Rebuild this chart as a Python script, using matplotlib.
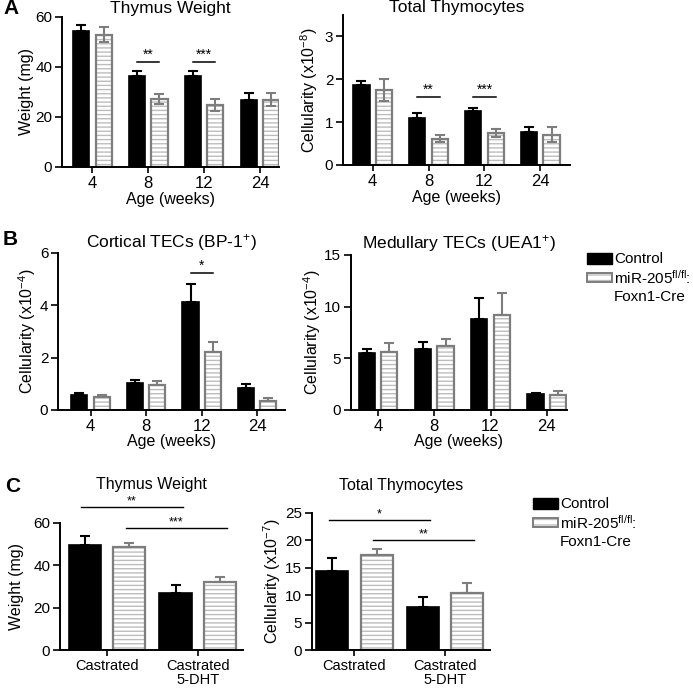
import matplotlib
matplotlib.use('Agg')
import matplotlib.pyplot as plt
import numpy as np
from matplotlib.patches import Rectangle

plt.rcParams['font.family'] = ['Liberation Sans', 'DejaVu Sans']
plt.rcParams['mathtext.fontset'] = 'custom'
plt.rcParams['mathtext.rm'] = 'Liberation Sans'
plt.rcParams['mathtext.it'] = 'Liberation Sans'
plt.rcParams['hatch.linewidth'] = 1.0

# ---- data ----
ages = ['4', '8', '12', '24']

weight_ctrl = [54.3, 36.3, 36.3, 26.7]
weight_ctrl_err = [2.4, 2.0, 2.0, 2.9]
weight_mir = [52.7, 27.0, 24.7, 26.7]
weight_mir_err = [3.0, 2.0, 2.3, 2.6]

thymo_ctrl = [1.87, 1.10, 1.27, 0.78]
thymo_ctrl_err = [0.10, 0.12, 0.07, 0.10]
thymo_mir = [1.75, 0.61, 0.74, 0.71]
thymo_mir_err = [0.25, 0.08, 0.09, 0.18]

ctec_ctrl = [0.57, 1.04, 4.14, 0.85]
ctec_ctrl_err = [0.09, 0.11, 0.68, 0.15]
ctec_mir = [0.51, 0.96, 2.20, 0.36]
ctec_mir_err = [0.05, 0.16, 0.39, 0.09]

mtec_ctrl = [5.48, 5.90, 8.80, 1.58]
mtec_ctrl_err = [0.46, 0.70, 2.00, 0.10]
mtec_mir = [5.58, 6.16, 9.20, 1.48]
mtec_mir_err = [0.92, 0.71, 2.15, 0.39]

treatments = ['Castrated', 'Castrated\n5-DHT']
cast_weight_ctrl = [49.7, 26.8]
cast_weight_ctrl_err = [4.3, 4.0]
cast_weight_mir = [48.5, 31.9]
cast_weight_mir_err = [2.0, 2.8]

cast_thymo_ctrl = [14.5, 7.9]
cast_thymo_ctrl_err = [2.3, 1.7]
cast_thymo_mir = [17.3, 10.4]
cast_thymo_mir_err = [1.1, 1.8]

# significance within a group: (group index, stars, height)
sig_weight = [(1, '**', 42), (2, '***', 42)]
sig_thymo = [(1, '**', 1.59), (2, '***', 1.59)]
sig_ctec = [(2, '*', 5.25)]
# significance across groups: (series, stars, height)
sig_cast_weight = [('ctrl', '**', 67.5), ('mir', '***', 57.6)]
sig_cast_thymo = [('ctrl', '*', 23.7), ('mir', '**', 20.0)]

W, H = 693, 688
fig = plt.figure(figsize=(W / 100, H / 100), dpi=100)

def fx(x):
    return x / W

def fy(y):
    return 1 - y / H

def make_ax(x0, x1, ytop, ybot):
    return fig.add_axes([fx(x0), fy(ybot), (x1 - x0) / W, (ybot - ytop) / H])

GREY = '#7d7d7d'
HATCH = '#bdbdbd'

def draw(ax, cats, ctrl, ctrl_err, mir, mir_err, ymax, yticks, xlim, width, off,
         both_sided, ylabel, ylab_x, title, title_y, title_size, xfs):
    x = np.arange(len(cats))
    ax.bar(x - off, ctrl, width, color='black', edgecolor='black', linewidth=1.2, zorder=2)
    ax.errorbar(x - off, ctrl, yerr=[np.zeros(len(cats)), ctrl_err], fmt='none',
                ecolor='black', elinewidth=1.5, capsize=3.5, capthick=1.5, zorder=3)
    ax.bar(x + off, mir, width, color='white', hatch='----', edgecolor=HATCH,
           linewidth=0, zorder=2)
    ax.bar(x + off, mir, width, fill=False, edgecolor=GREY, linewidth=1.6, zorder=2)
    low = mir_err if both_sided else np.zeros(len(cats))
    ax.errorbar(x + off, mir, yerr=[low, mir_err], fmt='none',
                ecolor=GREY, elinewidth=1.5, capsize=3.5, capthick=1.5, zorder=3)
    ax.set_xlim(*xlim)
    ax.set_ylim(0, ymax)
    ax.set_yticks(yticks)
    ax.set_xticks(x)
    ax.set_xticklabels(cats, fontsize=xfs, linespacing=1.0)
    ax.tick_params(axis='y', labelsize=11, length=5, width=1.2, pad=2)
    ax.tick_params(axis='x', length=4, width=1.2, pad=2.5)
    for s in ['top', 'right']:
        ax.spines[s].set_visible(False)
    for s in ['left', 'bottom']:
        ax.spines[s].set_linewidth(1.4)
    ax.set_ylabel(ylabel, fontsize=11.5)
    ax.yaxis.set_label_coords(ylab_x, 0.5)
    ax.yaxis.label.set_verticalalignment('center')
    ax.text(0.5, title_y, title, transform=ax.transAxes, ha='center', va='center',
            fontsize=title_size)
    return x

def sig_pair(ax, x, off, items):
    for i, stars, h in items:
        ax.plot([x[i] - off, x[i] + off], [h, h], color='black', lw=1.1, zorder=4)
        ax.text(x[i], h, stars, ha='center', va='bottom', fontsize=10)

def sig_across(ax, x, off, items):
    for series, stars, h in items:
        s = -off if series == 'ctrl' else off
        x1, x2 = x[0] + s - 0.04, x[1] + s + 0.08
        ax.plot([x1, x2], [h, h], color='black', lw=1.0, clip_on=False, zorder=4)
        ax.text((x1 + x2) / 2, h, stars, ha='center', va='bottom', fontsize=9)

# ---- A ----
axA1 = make_ax(62, 279, 16.5, 166.7)
x = draw(axA1, ages, weight_ctrl, weight_ctrl_err, weight_mir, weight_mir_err,
         60, [0, 20, 40, 60], (-0.545, 3.34), 0.29, 0.2, True,
         'Weight (mg)', -0.165, 'Thymus Weight', 1.055, 12.5, 12)
sig_pair(axA1, x, 0.2, sig_weight)
axA1.set_xlabel('Age (weeks)', fontsize=11.5, labelpad=1)

axA2 = make_ax(343, 570, 15, 165)
x = draw(axA2, ages, thymo_ctrl, thymo_ctrl_err, thymo_mir, thymo_mir_err,
         3.5, [0, 1, 2, 3], (-0.53, 3.53), 0.29, 0.2, True,
         r'Cellularity (x10$^{-8}$)', -0.15, 'Total Thymocytes', 1.047, 12.5, 12)
sig_pair(axA2, x, 0.2, sig_thymo)
axA2.set_xlabel('Age (weeks)', fontsize=11.5, labelpad=1)

# ---- B ----
axB1 = make_ax(58, 285, 253, 410)
x = draw(axB1, ages, ctec_ctrl, ctec_ctrl_err, ctec_mir, ctec_mir_err,
         6, [0, 2, 4, 6], (-0.585, 3.5), 0.29, 0.2, False,
         r'Cellularity (x10$^{-4}$)', -0.135, r'Cortical TECs (BP-1$^{+}$)', 1.064, 12.5, 12)
sig_pair(axB1, x, 0.2, sig_ctec)
axB1.set_xlabel('Age (weeks)', fontsize=11.5, labelpad=0)

axB2 = make_ax(351, 567, 255, 410)
x = draw(axB2, ages, mtec_ctrl, mtec_ctrl_err, mtec_mir, mtec_mir_err,
         15, [0, 5, 10, 15], (-0.48, 3.36), 0.29, 0.2, False,
         r'Cellularity (x10$^{-4}$)', -0.18, r'Medullary TECs (UEA1$^{+}$)', 1.077, 12.5, 12)
axB2.set_xlabel('Age (weeks)', fontsize=11.5, labelpad=0)

# ---- C ----
axC1 = make_ax(60, 243, 523, 650)
x = draw(axC1, treatments, cast_weight_ctrl, cast_weight_ctrl_err, cast_weight_mir,
         cast_weight_mir_err, 60, [0, 20, 40, 60], (-0.52, 1.5), 0.355, 0.245, False,
         'Weight (mg)', -0.235, 'Thymus Weight', 1.30, 11.5, 10.5)
sig_across(axC1, x, 0.245, sig_cast_weight)

axC2 = make_ax(312, 490, 513, 650)
x = draw(axC2, treatments, cast_thymo_ctrl, cast_thymo_ctrl_err, cast_thymo_mir,
         cast_thymo_mir_err, 25, [0, 5, 10, 15, 20, 25], (-0.47, 1.5), 0.355, 0.245, False,
         r'Cellularity (x10$^{-7}$)', -0.225, 'Total Thymocytes', 1.204, 11.5, 10.5)
sig_across(axC2, x, 0.245, sig_cast_thymo)

# ---- panel letters ----
for letter, (px, py) in {'A': (3, 9), 'B': (3, 239), 'C': (5, 486)}.items():
    fig.text(fx(px), fy(py), letter, fontsize=15, fontweight='bold', va='center', ha='left')

# ---- legends ----
def legend_at(x0, y0):
    fig.add_artist(Rectangle((fx(x0), fy(y0 + 11)), 25 / W, 11 / H, transform=fig.transFigure,
                             facecolor='black', edgecolor='black', lw=1))
    fig.text(fx(x0 + 27), fy(y0 + 5.5), 'Control', fontsize=11, va='center', ha='left')
    fig.add_artist(Rectangle((fx(x0), fy(y0 + 29)), 25 / W, 9 / H, transform=fig.transFigure,
                             facecolor='white', hatch='---', edgecolor=HATCH, lw=0))
    fig.add_artist(Rectangle((fx(x0), fy(y0 + 29)), 25 / W, 9 / H, transform=fig.transFigure,
                             fill=False, edgecolor=GREY, lw=1.4))
    fig.text(fx(x0 + 27), fy(y0 + 25), r'miR-205$^{\mathrm{fl/fl}}$:', fontsize=11,
             va='center', ha='left')
    fig.text(fx(x0 + 27), fy(y0 + 44), 'Foxn1-Cre', fontsize=11, va='center', ha='left')

legend_at(587, 253)
legend_at(533, 498)

fig.savefig('out.png', dpi=100)
